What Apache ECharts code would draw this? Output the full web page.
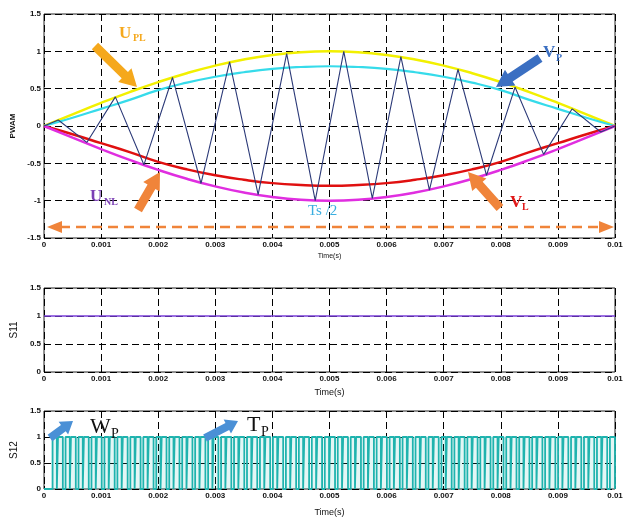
<!DOCTYPE html>
<html><head><meta charset="utf-8">
<script src="https://cdn.jsdelivr.net/npm/echarts@6/dist/echarts.min.js"></script>
<style>html,body{margin:0;padding:0;background:#fff}#c{width:630px;height:518px}</style>
</head><body><div id="c"></div><script>
// ---- data ----
const curveTime = [0,0.0005,0.001,0.0015,0.002,0.0025,0.003,0.0035,0.004,0.0045,0.005,0.0055,0.006,0.0065,0.007,0.0075,0.008,0.0085,0.009,0.0095,0.01];
const uplValues = [0,0.156,0.309,0.454,0.588,0.707,0.809,0.891,0.951,0.988,1,0.988,0.951,0.891,0.809,0.707,0.588,0.454,0.309,0.156,0];
const vpValues  = [0,0.11,0.23,0.35,0.48,0.58,0.66,0.72,0.765,0.79,0.8,0.79,0.765,0.72,0.66,0.58,0.48,0.35,0.23,0.11,0];
const vlValues  = [0,-0.11,-0.23,-0.35,-0.48,-0.58,-0.66,-0.72,-0.765,-0.79,-0.8,-0.79,-0.765,-0.72,-0.66,-0.58,-0.48,-0.35,-0.23,-0.11,0];
const unlValues = [0,-0.156,-0.309,-0.454,-0.588,-0.707,-0.809,-0.891,-0.951,-0.988,-1,-0.988,-0.951,-0.891,-0.809,-0.707,-0.588,-0.454,-0.309,-0.156,0];
const carrierTime  = [0,0.00025,0.00075,0.00125,0.00175,0.00225,0.00275,0.00325,0.00375,0.00425,0.00475,0.00525,0.00575,0.00625,0.00675,0.00725,0.00775,0.00825,0.00875,0.00925,0.00975,0.01];
const carrierValue = [0,0.08,-0.22,0.39,-0.52,0.65,-0.77,0.86,-0.92,0.97,-1.0,1.0,-0.97,0.93,-0.86,0.76,-0.66,0.52,-0.38,0.23,-0.08,0];
const s11Time  = [0,0.01];
const s11Value = [1,1];
// S12 high intervals, in microseconds
const s12Pulses = [
 [150,225],[245,330],[377,452],[472,557],[604,679],[699,784],[831,906],[926,1011],
 [1058,1133],[1153,1238],[1285,1360],[1380,1465],[1512,1587],[1607,1692],[1739,1814],[1834,1919],
 [1966,2041],[2061,2146],[2193,2268],[2288,2373],[2420,2495],[2515,2600],[2647,2722],[2742,2827],
 [2874,2949],[2969,3054],[3101,3176],[3196,3281],[3328,3403],[3423,3508],[3555,3630],[3650,3735],
 [3782,3857],[3877,3962],[4009,4084],[4104,4189],[4236,4311],[4331,4416],[4463,4538],[4558,4643],
 [4690,4765],[4785,4870],[4917,4992],[5012,5097],[5144,5219],[5239,5324],[5371,5446],[5466,5551],
 [5598,5673],[5693,5778],[5825,5900],[5920,6005],[6052,6127],[6147,6232],[6279,6354],[6374,6459],
 [6506,6581],[6601,6686],[6733,6808],[6828,6913],[6960,7035],[7055,7140],[7187,7262],[7282,7367],
 [7414,7489],[7509,7594],[7641,7716],[7736,7821],[7868,7943],[7963,8048],[8095,8170],[8190,8275],
 [8322,8397],[8417,8502],[8549,8624],[8644,8729],[8776,8851],[8871,8956],[9003,9078],[9098,9183],
 [9230,9305],[9325,9410],[9457,9532],[9552,9637],[9684,9759],[9779,9864],[9911,10000]
];
const xTickInterval = 0.001;
const yTickInterval = 0.5;

// ---- build ----
const pair = (xs, ys) => xs.map((x,i)=>[x, ys[i]]);
const s12Data = [[0,0]];
s12Pulses.forEach(([a,b])=>{ a/=1e6; b/=1e6; s12Data.push([a,0],[a,1],[b,1],[b,0]); });
s12Data.push([0.01,0]);

const LBL = {fontFamily:'Liberation Sans', fontSize:8, fontWeight:'bold', color:'#111'};
const dashed = {show:true, lineStyle:{color:'#000', type:[7,4], width:1}};
function xAx(gi, nameTxt, nameSize, gap){
  return {type:'value', gridIndex:gi, min:0, max:0.01, interval:xTickInterval,
    axisLine:{show:false}, axisTick:{show:true, inside:true, length:3, lineStyle:{color:'#000'}},
    axisLabel:Object.assign({margin:3, showMinLabel:true, showMaxLabel:true,
      formatter:v=> v===0?'0':String(+v.toFixed(3))}, LBL),
    splitLine:dashed, name:nameTxt, nameLocation:'middle', nameGap:gap,
    nameTextStyle:{fontFamily:'Liberation Sans', fontSize:nameSize, color:'#111'}};
}
function yAx(gi, min, max, nameTxt, nameSize, gap, bold){
  return {type:'value', gridIndex:gi, min:min, max:max, interval:yTickInterval,
    axisLine:{show:false}, axisTick:{show:true, inside:true, length:3, lineStyle:{color:'#000'}},
    axisLabel:Object.assign({margin:3}, LBL),
    splitLine:dashed, name:nameTxt, nameLocation:'middle', nameGap:gap,
    nameTextStyle:{fontFamily:'Liberation Sans', fontSize:nameSize, fontWeight:bold?'bold':'normal', color:'#111'}};
}
const gridBase = {left:44, width:571, show:true, borderColor:'#222', borderWidth:1, backgroundColor:'#fff'};

function arrow(x1,y1,x2,y2,w,hl,hw,color){
  const dx=x2-x1, dy=y2-y1, L=Math.hypot(dx,dy), ux=dx/L, uy=dy/L, nx=-uy, ny=ux;
  const bx=x2-ux*hl, by=y2-uy*hl;
  const pts=[[x1+nx*w/2,y1+ny*w/2],[bx+nx*w/2,by+ny*w/2],[bx+nx*hw/2,by+ny*hw/2],[x2,y2],
             [bx-nx*hw/2,by-ny*hw/2],[bx-nx*w/2,by-ny*w/2],[x1-nx*w/2,y1-ny*w/2]];
  return {type:'polygon', shape:{points:pts}, style:{fill:color}, z:100};
}
function txt(x,y,t,size,color,bold,fam){
  return {type:'text', x:x, y:y, z:101, style:{text:t, fontSize:size, fill:color,
    fontWeight:bold?'bold':'normal', fontFamily:fam||'Liberation Serif', textVerticalAlign:'top'}};
}
const ORANGE='#f0843a', GOLD='#f5a81c', BLUE='#3b6fc2', LBLUE='#4a90d6';

const option = {
  animation:false,
  backgroundColor:'#fff',
  grid:[
    Object.assign({top:14, height:224}, gridBase),
    Object.assign({top:288, height:84}, gridBase),
    Object.assign({top:411, height:85}, gridBase)
  ],
  xAxis:[ xAx(0,'Time(s)',7,15), xAx(1,'Time(s)',9,16), xAx(2,'Time(s)',9,19) ],
  yAxis:[ yAx(0,-1.5,1.5,'PWAM',8,22,true), yAx(1,0,1.5,'S11',10,22,false), yAx(2,0,1.5,'S12',10,22,false) ],
  series:[
    {type:'line', xAxisIndex:0, yAxisIndex:0, data:pair(curveTime,uplValues), smooth:true, symbol:'none', lineStyle:{color:'#f2f000', width:2.5}, z:3},
    {type:'line', xAxisIndex:0, yAxisIndex:0, data:pair(curveTime,vpValues), smooth:true, symbol:'none', lineStyle:{color:'#36dbea', width:2.2}, z:3},
    {type:'line', xAxisIndex:0, yAxisIndex:0, data:pair(curveTime,vlValues), smooth:true, symbol:'none', lineStyle:{color:'#e01010', width:2.5}, z:3},
    {type:'line', xAxisIndex:0, yAxisIndex:0, data:pair(curveTime,unlValues), smooth:true, symbol:'none', lineStyle:{color:'#e02ee0', width:2.5}, z:3},
    {type:'line', xAxisIndex:0, yAxisIndex:0, data:pair(carrierTime,carrierValue), symbol:'none', lineStyle:{color:'#2c3a78', width:1.1}, z:4},
    {type:'line', xAxisIndex:1, yAxisIndex:1, data:pair(s11Time,s11Value), symbol:'none', lineStyle:{color:'#7a3fd8', width:1.5}},
    {type:'line', xAxisIndex:2, yAxisIndex:2, data:s12Data, symbol:'none', lineStyle:{color:'#1fb3ae', width:1.8}, areaStyle:{color:'#1fb3ae', opacity:0.12}}
  ],
  graphic:[
    arrow(95,46,137,87,9,17,19,GOLD),
    arrow(540,58,496,87,9,17,19,BLUE),
    arrow(138,210,160,172,9,17,19,ORANGE),
    arrow(500,208,468,172,9,17,19,ORANGE),
    {type:'line', shape:{x1:60,y1:227,x2:600,y2:227}, style:{stroke:ORANGE, lineWidth:2.5, lineDash:[10,6]}, z:100},
    {type:'polygon', shape:{points:[[47,227],[62,221],[62,233]]}, style:{fill:ORANGE}, z:100},
    {type:'polygon', shape:{points:[[614,227],[599,221],[599,233]]}, style:{fill:ORANGE}, z:100},
    arrow(50,438,73,421,8,12,16,LBLUE),
    arrow(205,438,238,421,8,12,16,LBLUE),
    txt(119,25,'U',17,GOLD,true), txt(133,33,'PL',10,GOLD,true),
    txt(543,44,'V',17,BLUE,true), txt(556,53,'P',10,BLUE,true),
    txt(90,188,'U',17,'#7b3fb5',true), txt(104,197,'NL',10,'#7b3fb5',true),
    txt(510,194,'V',17,'#e01818',true), txt(522,202,'L',10,'#e01818',true),
    txt(308,204,'Ts /2',15,'#3aaee0',false),
    txt(90,416,'W',22,'#111',false), txt(111,427,'P',14,'#111',false),
    txt(247,414,'T',22,'#111',false), txt(261,425,'P',14,'#111',false)
  ]
};
echarts.init(document.getElementById('c')).setOption(option);
</script></body></html>
